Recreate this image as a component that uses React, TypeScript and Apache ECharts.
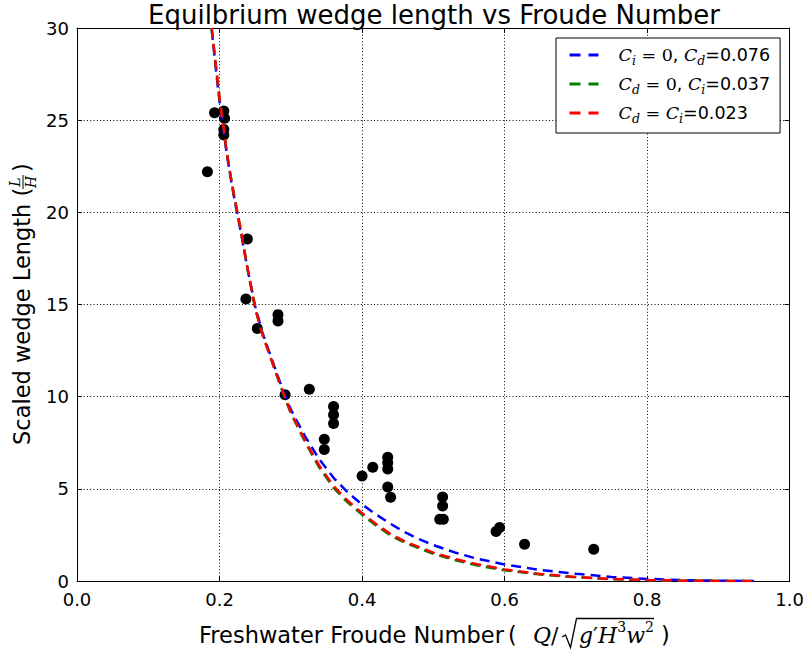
import React, { useEffect, useRef } from 'react';
import * as echarts from 'echarts';

// Freshwater Froude number grid used for the three model curves
const froude = [0.189, 0.195, 0.2, 0.205, 0.21, 0.215, 0.22, 0.23, 0.24, 0.25, 0.26, 0.27, 0.28, 0.29, 0.3, 0.32, 0.34, 0.36, 0.38, 0.4, 0.42, 0.44, 0.46, 0.48, 0.5, 0.53, 0.56, 0.6, 0.65, 0.7, 0.75, 0.8, 0.85, 0.9, 0.95];

// Scaled wedge length L/H for each friction assumption
const lengthCi0 = [29.9, 27.7, 26.0, 24.6, 23.2, 22.0, 20.9, 18.9, 16.8, 14.9, 13.5, 12.4, 11.3, 10.25, 9.3, 7.85, 6.6, 5.6, 4.8, 4.15, 3.6, 3.1, 2.65, 2.27, 1.95, 1.55, 1.22, 0.9, 0.6, 0.39, 0.22, 0.115, 0.05, 0.015, 0.0];
const lengthCd0 = [30.0, 27.9, 26.2, 24.8, 23.3, 22.1, 21.0, 19.0, 16.8, 14.8, 13.4, 12.3, 11.2, 10.1, 9.1, 7.55, 6.15, 5.05, 4.25, 3.6, 3.0, 2.47, 2.08, 1.77, 1.48, 1.14, 0.86, 0.58, 0.35, 0.2, 0.1, 0.045, 0.015, 0.004, 0.0];
const lengthEqual = [30.0, 27.9, 26.2, 24.8, 23.3, 22.1, 21.0, 19.0, 16.8, 14.8, 13.4, 12.3, 11.2, 10.15, 9.15, 7.62, 6.25, 5.15, 4.35, 3.68, 3.08, 2.55, 2.15, 1.84, 1.54, 1.2, 0.92, 0.63, 0.38, 0.22, 0.11, 0.05, 0.018, 0.005, 0.0];

// Measured equilibrium wedge lengths
const obsFroude = [0.183, 0.193, 0.206, 0.207, 0.206, 0.206, 0.239, 0.237, 0.253, 0.282, 0.282, 0.292, 0.326, 0.347, 0.347, 0.36, 0.36, 0.36, 0.4, 0.415, 0.436, 0.436, 0.436, 0.436, 0.44, 0.513, 0.513, 0.509, 0.514, 0.588, 0.593, 0.628, 0.725];
const obsLength = [22.2, 25.4, 25.5, 25.1, 24.5, 24.2, 18.55, 15.3, 13.7, 14.45, 14.1, 10.1, 10.4, 7.69, 7.13, 9.46, 9.02, 8.54, 5.7, 6.17, 6.71, 6.42, 6.08, 5.1, 4.54, 4.56, 4.07, 3.35, 3.35, 2.68, 2.9, 1.99, 1.72];

const seriesNames = ['Ci=0, Cd=0.076', 'Cd=0, Ci=0.037', 'Cd=Ci=0.023'];
const seriesColors = ['#0000ff', '#008000', '#ff0000'];
const legendLabels: Record<string, string> = {
  'Ci=0, Cd=0.076': '{c|C}{s|i}{e| = 0}{t|, }{c|C}{s|d}{t|=0.076}',
  'Cd=0, Ci=0.037': '{c|C}{s|d}{e| = 0}{t|, }{c|C}{s|i}{t|=0.037}',
  'Cd=Ci=0.023': '{c|C}{s|d}{e| = }{c|C}{s|i}{t|=0.023}',
};

const titleText = 'Equilbrium wedge length vs Froude Number';
const xLabelText = 'Freshwater Froude Number';
const yLabelText = 'Scaled wedge Length (';

const SANS = 'DejaVu Sans';
const SERIF = 'DejaVu Serif';
const LABEL_SIZE = 22.5;

const pairs = (xs: number[], ys: number[]) => xs.map((x, i) => [x, ys[i]]);

const txt = (x: number, y: number, text: string, extra: Record<string, unknown> = {}) => ({
  type: 'text',
  x,
  y,
  style: {
    text,
    fontSize: LABEL_SIZE,
    fontFamily: SANS,
    fill: '#000',
    align: 'left',
    verticalAlign: 'middle',
    textAlign: 'left',
    textVerticalAlign: 'middle',
    ...extra,
  },
});

export default function App() {
  const ref = useRef<HTMLDivElement>(null);

  useEffect(() => {
    const chart = echarts.init(ref.current!, null, { renderer: 'svg' });

    const gridLine = { show: true, lineStyle: { color: '#000', type: [1, 2.3], width: 1 } };
    const axisLine = { show: true, onZero: false, lineStyle: { color: '#000', width: 1 } };
    const tick = { show: true, inside: true, length: 5, lineStyle: { color: '#000', width: 1 } };
    const tickLabel = { color: '#000', fontSize: 18, fontFamily: SANS };

    const lineSeries = [lengthCi0, lengthCd0, lengthEqual].map((vals, i) => ({
      name: seriesNames[i],
      type: 'line',
      data: pairs(froude, vals),
      symbol: 'none',
      showSymbol: false,
      smooth: false,
      z: 3 + i,
      lineStyle: { color: seriesColors[i], width: 2.5, type: [10, 6] },
      itemStyle: { color: seriesColors[i] },
    }));

    const mathRich = {
      i: { fontFamily: SERIF, fontStyle: 'italic', fontSize: 22, lineHeight: 30 },
      r: { fontFamily: SERIF, fontSize: 22, lineHeight: 30 },
      sup: { fontFamily: SERIF, fontSize: 14, verticalAlign: 'top' },
    };

    chart.setOption({
      animation: false,
      backgroundColor: '#fff',
      grid: { left: 77, right: 16, top: 28, bottom: 72 },
      xAxis: [
        {
          type: 'value', min: 0, max: 1, interval: 0.2,
          axisLine, axisTick: tick,
          axisLabel: { ...tickLabel, margin: 9, formatter: (v: number) => v.toFixed(1) },
          splitLine: gridLine,
        },
        {
          type: 'value', position: 'top', min: 0, max: 1, interval: 0.2,
          axisLine, axisTick: tick, axisLabel: { show: false }, splitLine: { show: false },
        },
      ],
      yAxis: [
        {
          type: 'value', min: 0, max: 30, interval: 5,
          axisLine, axisTick: tick,
          axisLabel: { ...tickLabel, margin: 8 },
          splitLine: gridLine,
        },
        {
          type: 'value', position: 'right', min: 0, max: 30, interval: 5,
          axisLine, axisTick: tick, axisLabel: { show: false }, splitLine: { show: false },
        },
      ],
      legend: {
        data: seriesNames,
        orient: 'vertical',
        left: 556,
        top: 38,
        padding: [8, 10, 8, 12],
        itemWidth: 29,
        itemHeight: 14,
        itemGap: 8,
        backgroundColor: '#fff',
        borderColor: '#000',
        borderWidth: 1,
        borderRadius: 0,
        itemStyle: { opacity: 0 },
        lineStyle: { type: [11, 8], width: 3 },
        formatter: (name: string) => legendLabels[name],
        textStyle: {
          color: '#000',
          fontSize: 17.5,
          padding: [0, 0, 0, 15],
          rich: {
            c: { fontFamily: SERIF, fontStyle: 'italic', fontSize: 17.5, lineHeight: 24, color: '#000' },
            s: { fontFamily: SERIF, fontStyle: 'italic', fontSize: 12.5, verticalAlign: 'bottom', color: '#000' },
            e: { fontFamily: SERIF, fontSize: 17.5, lineHeight: 24, color: '#000' },
            t: { fontFamily: SANS, fontSize: 17.5, lineHeight: 24, color: '#000' },
          },
        },
      },
      graphic: [
        txt(434, 15, titleText, { fontSize: 26, align: 'center', textAlign: 'center' }),
        // x-axis name: Q / sqrt(g' H^3 w^2)
        txt(199, 635, xLabelText),
        txt(508, 635, '('),
        txt(533, 635, '{i|Q}{r|/}', { rich: mathRich }),
        txt(579, 635, '{i|g}{r|′}{i|H}{sup|3}{i|w}{sup|2}', { rich: mathRich }),
        {
          type: 'polyline',
          shape: { points: [[562, 637], [565.5, 635], [570.5, 647.5], [576.5, 618.5], [654, 618.5]] },
          style: { stroke: '#000', lineWidth: 1.3, fill: null },
        },
        txt(661, 635, ')'),
        // y-axis name with the L/H fraction
        {
          type: 'group', x: 22, y: 445, rotation: Math.PI / 2,
          children: [
            txt(0, 0, yLabelText),
            txt(263, -7, 'L', { fontFamily: SERIF, fontStyle: 'italic', fontSize: 14, align: 'center', textAlign: 'center' }),
            { type: 'line', shape: { x1: 256, y1: 1, x2: 270, y2: 1 }, style: { stroke: '#000', lineWidth: 1 } },
            txt(263, 9, 'H', { fontFamily: SERIF, fontStyle: 'italic', fontSize: 14, align: 'center', textAlign: 'center' }),
            txt(273, 0, ')'),
          ],
        },
      ],
      series: [
        {
          name: 'Observed',
          type: 'scatter',
          data: pairs(obsFroude, obsLength),
          symbol: 'circle',
          symbolSize: 11,
          z: 2,
          itemStyle: { color: '#000', opacity: 1 },
        },
        ...lineSeries,
      ],
    });

    return () => chart.dispose();
  }, []);

  return (
    <div
      ref={ref}
      style={{ position: 'fixed', left: 0, top: 0, width: 807, height: 653, background: '#fff' }}
    />
  );
}
